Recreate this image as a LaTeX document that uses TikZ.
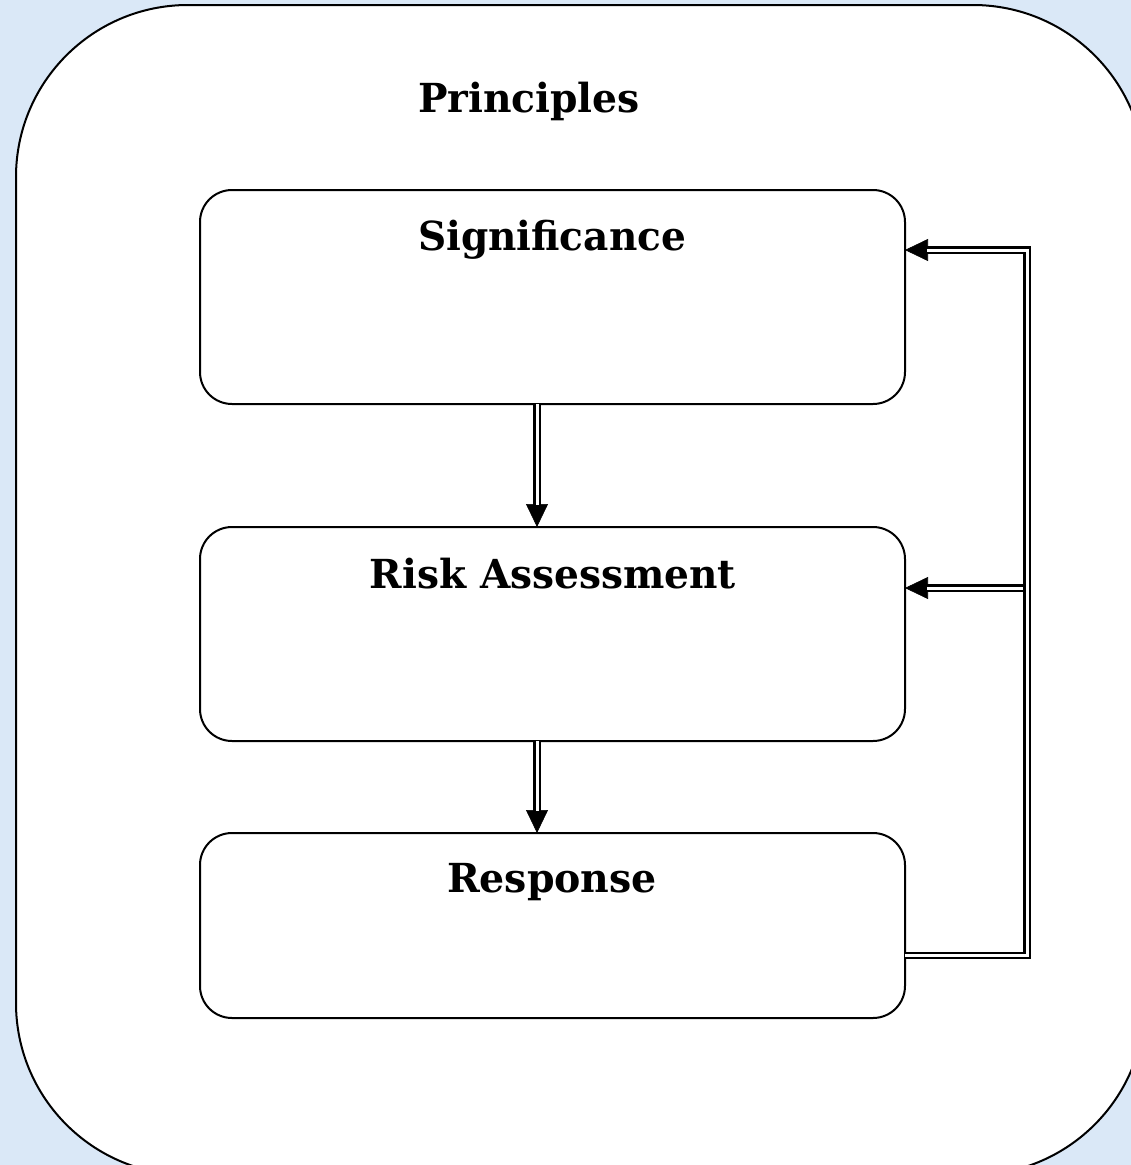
\documentclass[tikz,border=0pt]{standalone}
\usepackage{fontspec}
\setmainfont{DejaVu Serif}
\usepackage{graphicx}
\usetikzlibrary{arrows.meta,calc}
\definecolor{bgblue}{RGB}{218,232,247}
\newcommand{\fitw}[2]{\resizebox{#1}{\height}{#2}}
\tikzset{
  boxshape/.style={draw=black, line width=2pt, fill=white, rounded corners=32pt,
    minimum width=705pt, inner sep=0pt, outer sep=0pt},
  ttl/.style={font=\fontsize{40}{44}\selectfont\bfseries, inner sep=0pt, anchor=base},
  dbl/.style={draw=black, line width=2.2pt, double=white, double distance=3pt},
  tipline/.style={line width=0.6pt, -{Triangle[length=23pt,width=22pt]}},
}
\begin{document}
\begin{tikzpicture}[x=1pt,y=-1pt]
\useasboundingbox (0,0) rectangle (1131,1165);
\fill[bgblue] (0,0) rectangle (1131,1165);
\begin{scope}
\clip (0,0) rectangle (1131,1165);
\draw[line width=2pt, fill=white, rounded corners=172pt] (16,5) rectangle (1145,1175);
\end{scope}

\node[ttl] (title) at (529,112) {\fitw{222pt}{Principles}};

\node[boxshape, minimum height=214pt] (sig) at (552.5,297) {};
\node[boxshape, minimum height=214pt] (risk) at (552.5,634) {};
\node[boxshape, minimum height=185pt] (resp) at (552.5,925.5) {};

\node[ttl] (sigT) at (552,250) {\fitw{268pt}{Significance}};
\node[ttl] (riskT) at (553,588) {\fitw{366pt}{Risk Assessment}};
\node[ttl] (respT) at (552,892) {\fitw{210pt}{Response}};

\coordinate (ax) at (537,0);
\coordinate (fb) at (1027,0);
\coordinate (sigIn) at ([yshift=47pt]sig.east);
\coordinate (riskIn) at ([yshift=46pt]risk.east);
\coordinate (respOut) at ([yshift=-30pt]resp.east);

% down arrows
\draw[tipline] (ax |- sig.south) -- (ax |- risk.north);
\draw[dbl, shorten >=22pt] (ax |- sig.south) -- (ax |- risk.north);
\draw[tipline] (ax |- risk.south) -- (ax |- resp.north);
\draw[dbl, shorten >=22pt] (ax |- risk.south) -- (ax |- resp.north);

% feedback branch into risk
\draw[tipline] (fb |- riskIn) -- (riskIn);
\draw[dbl, shorten >=22pt] (fb |- riskIn) -- (riskIn);

% feedback main loop
\draw[tipline] (fb |- sigIn) -- (sigIn);
\draw[dbl, shorten >=22pt] (respOut) -| (fb |- sigIn) -- (sigIn);
\end{tikzpicture}
\end{document}
